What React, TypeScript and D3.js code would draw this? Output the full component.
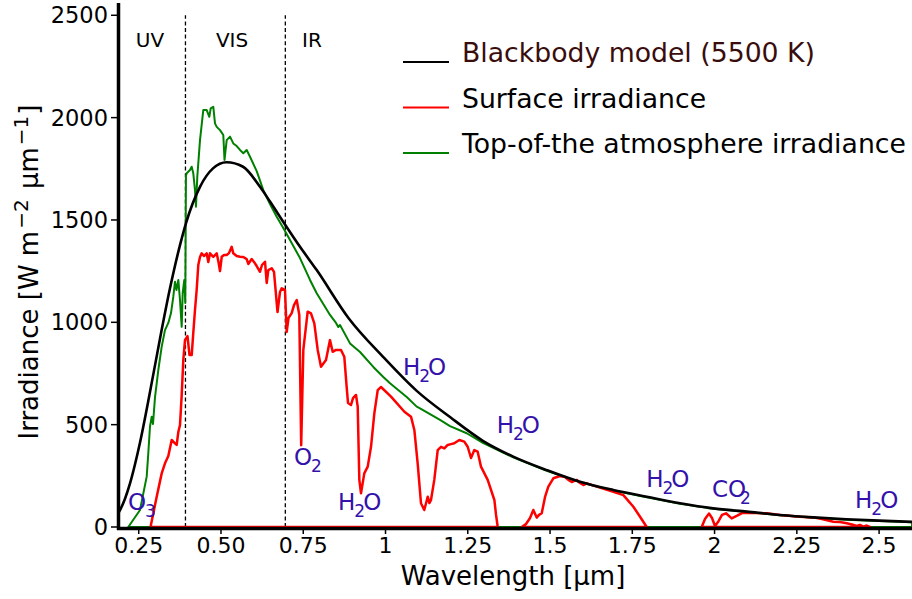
import React from 'react';
import * as d3 from 'd3';

type Pt = [number, number];

// Blackbody model (5500 K) – wavelength [µm], irradiance [W m-2 µm-1]
const blackbody: Pt[] = [
  [0.187, 64], [0.193, 82], [0.208, 137], [0.2235, 213], [0.2389, 308], [0.2539, 413],
  [0.2842, 659], [0.3146, 920], [0.345, 1166], [0.3754, 1377], [0.3937, 1485],
  [0.4362, 1662], [0.4757, 1752], [0.517, 1782], [0.567, 1760], [0.6186, 1662],
  [0.6489, 1590], [0.6945, 1478], [0.7401, 1369], [0.7909, 1255], [0.8879, 1020],
  [0.9933, 830], [1.0948, 665], [1.196, 537], [1.297, 420], [1.388, 344], [1.49, 278],
  [1.591, 221], [1.692, 181], [1.794, 148], [1.895, 116], [1.996, 91], [2.098, 75],
  [2.199, 59], [2.3, 47], [2.4, 38], [2.5, 31], [2.6, 25],
];

// Top-of-the-atmosphere irradiance
const topOfAtmosphere: Pt[] = [
  [0.2183, 0], [0.2539, 83], [0.2742, 246], [0.2791, 361], [0.2842, 490], [0.2894, 539],
  [0.2934, 503], [0.2995, 635], [0.3095, 767], [0.3198, 881], [0.3298, 962], [0.3399, 997],
  [0.3481, 1045], [0.3551, 1125], [0.3602, 1198], [0.3648, 1158], [0.3703, 1207],
  [0.3754, 1109], [0.3806, 978], [0.3836, 1143], [0.3885, 1207], [0.3915, 1094],
  [0.3935, 1715], [0.3958, 1728], [0.4058, 1744], [0.4109, 1760], [0.4158, 1728],
  [0.421, 1646], [0.424, 1565], [0.428, 1711], [0.4362, 1890], [0.4462, 2037],
  [0.4566, 2037], [0.4645, 2004], [0.4687, 2045], [0.4766, 2053], [0.4818, 1972],
  [0.487, 1955], [0.497, 1939], [0.507, 1915], [0.5107, 1793], [0.5173, 1890],
  [0.5274, 1907], [0.5374, 1874], [0.5477, 1861], [0.5578, 1842], [0.5678, 1826],
  [0.5781, 1842], [0.5882, 1809], [0.6085, 1739], [0.6286, 1646], [0.6489, 1578],
  [0.6693, 1516], [0.6894, 1461], [0.7097, 1402], [0.7401, 1314], [0.7705, 1207],
  [0.7909, 1142], [0.8313, 1036], [0.8495, 997], [0.8565, 977], [0.8617, 987],
  [0.8921, 897], [0.9225, 855], [0.9629, 782], [0.9933, 733], [1.0136, 702],
  [1.0644, 635], [1.0948, 588], [1.1048, 580], [1.1656, 523], [1.196, 493],
  [1.2467, 458], [1.2972, 410], [1.388, 340], [1.49, 274], [1.591, 218], [1.692, 178],
  [1.794, 145], [1.895, 113], [1.996, 89], [2.098, 73], [2.199, 57], [2.3, 45],
  [2.4, 36], [2.5, 29], [2.6, 23],
];

// Surface irradiance (three windows)
const surfaceA: Pt[] = [
  [0.2858, 0], [0.3046, 148], [0.3198, 262], [0.3298, 311], [0.3399, 347], [0.3502, 425],
  [0.3602, 409], [0.3654, 401], [0.3703, 464], [0.3754, 498], [0.3806, 645], [0.3855, 816],
  [0.3906, 913], [0.3982, 933], [0.4043, 840], [0.411, 840], [0.4158, 948], [0.421, 1060],
  [0.4261, 1158], [0.431, 1280], [0.4362, 1319], [0.4413, 1337], [0.4483, 1324],
  [0.4566, 1337], [0.4614, 1295], [0.4666, 1337], [0.4766, 1320], [0.487, 1337],
  [0.4924, 1295], [0.497, 1250], [0.5022, 1320], [0.5092, 1329], [0.5173, 1329],
  [0.5243, 1338], [0.5325, 1369], [0.5374, 1337], [0.5477, 1324], [0.5578, 1320],
  [0.5678, 1319], [0.5781, 1309], [0.583, 1285], [0.5933, 1309], [0.6003, 1295],
  [0.6085, 1275], [0.6186, 1247], [0.6246, 1280], [0.6338, 1296], [0.6389, 1192],
  [0.6438, 1255], [0.6541, 1264], [0.6611, 1246], [0.6718, 1050], [0.6793, 1148],
  [0.6845, 1166], [0.6945, 1158], [0.6997, 953], [0.7051, 1021], [0.7149, 1045],
  [0.7219, 1084], [0.7301, 1109], [0.738, 1036], [0.7437, 400], [0.7502, 865],
  [0.7634, 1052], [0.7735, 1044], [0.7836, 995], [0.7939, 865], [0.8039, 783],
  [0.8191, 816], [0.8312, 913], [0.8394, 856], [0.8495, 865], [0.8647, 865],
  [0.8747, 832], [0.8814, 694], [0.886, 606], [0.8951, 596], [0.9012, 630],
  [0.9103, 645], [0.9155, 588], [0.9204, 230], [0.9255, 165], [0.9355, 262],
  [0.9459, 295], [0.9559, 392], [0.966, 555], [0.9763, 669], [0.9863, 684],
  [1.0167, 637], [1.0574, 563], [1.0774, 539], [1.0876, 474], [1.0977, 311],
  [1.1078, 116], [1.1178, 83], [1.1282, 148], [1.1336, 117], [1.1382, 132],
  [1.1482, 230], [1.1586, 376], [1.1686, 392], [1.1788, 384], [1.1889, 401],
  [1.199, 405], [1.209, 409], [1.2242, 425], [1.2394, 417], [1.2497, 392],
  [1.2598, 337], [1.2699, 376], [1.2801, 368], [1.2901, 295], [1.3105, 230],
  [1.3308, 132], [1.3359, 59], [1.341, 0],
];
const surfaceB: Pt[] = [
  [1.4139, 0], [1.427, 15], [1.4392, 44], [1.4492, 83], [1.4595, 46], [1.4665, 59],
  [1.4747, 67], [1.4848, 147], [1.4948, 197], [1.51, 238], [1.5303, 249], [1.5455, 244],
  [1.5556, 230], [1.5659, 220], [1.5811, 230], [1.591, 215], [1.6012, 205], [1.6115, 213],
  [1.6419, 197], [1.6924, 172], [1.7228, 156], [1.7532, 99], [1.7735, 50], [1.7938, 0],
];
const surfaceC: Pt[] = [
  [1.9609, 0], [1.9709, 39], [1.9831, 66], [1.9922, 44], [2.0013, 5], [2.0104, 24],
  [2.0226, 59], [2.0347, 67], [2.052, 42], [2.0672, 54], [2.0833, 68], [2.0976, 70],
  [2.1584, 67], [2.1989, 59], [2.2596, 50], [2.3001, 47], [2.3265, 39], [2.361, 26],
  [2.3812, 24], [2.4016, 18], [2.4177, 12], [2.432, 5], [2.442, 10], [2.4521, 2],
  [2.4624, 7], [2.4724, 0],
];
const surfaceSegments = [surfaceA, surfaceB, surfaceC];

const xTickValues = [0.25, 0.5, 0.75, 1, 1.25, 1.5, 1.75, 2, 2.25, 2.5];
const xTickLabels = ['0.25', '0.50', '0.75', '1', '1.25', '1.5', '1.75', '2', '2.25', '2.5'];
const yTickValues = [0, 500, 1000, 1500, 2000, 2500];
const yTickLabels = ['0', '500', '1000', '1500', '2000', '2500'];

const regionBounds = [0.392, 0.6955];
const regionNames = ['UV', 'VIS', 'IR'];
const regionNameWl = [0.2843, 0.5335, 0.7766];
const regionNameVal = 2345;

// absorption labels
const absorberMain = ['O', 'O', 'H', 'H', 'H', 'H', 'CO', 'H'];
const absorberSub = ['3', '2', '2', '2', '2', '2', '2', '2'];
const absorberTail = ['', '', 'O', 'O', 'O', 'O', '', 'O'];
const absorberWl = [0.2174, 0.7219, 0.8556, 1.0531, 1.338, 1.792, 1.992, 2.427];
const absorberVal = [83, 303, 83, 742, 458, 195, 147, 93];

const legendLabels = ['Blackbody model (5500 K)', 'Surface irradiance', 'Top-of-the atmosphere irradiance'];
const legendColors = ['#000000', '#ff0000', '#008000'];
const legendTextColors = ['#3a0d0d', '#000000', '#000000'];

const FONT = "'DejaVu Sans', sans-serif";

export default function App() {
  const W = 912;
  const H = 599;
  const x = d3.scaleLinear().domain([0.187, 2.6]).range([118, 912]);
  const y = d3.scaleLinear().domain([0, 2560]).range([527, 3]);

  const line = d3.line<Pt>().x((d) => x(d[0])).y((d) => y(d[1]));
  const smooth = d3.line<Pt>().x((d) => x(d[0])).y((d) => y(d[1])).curve(d3.curveMonotoneX);

  const last = topOfAtmosphere[topOfAtmosphere.length - 1];
  const toaPath = (line(topOfAtmosphere) || '') + `L${x(last[0])},${y(0)}Z`;

  const chemColor = '#3311aa';

  return (
    <svg width={W} height={H} style={{ position: 'absolute', left: 0, top: 0, background: '#fff' }} fontFamily={FONT}>
      <rect x={0} y={0} width={W} height={H} fill="#fff" />
      {/* region dashed lines */}
      {regionBounds.map((b, i) => (
        <line key={'rb' + i} x1={x(b)} x2={x(b)} y1={y(0)} y2={y(2500)} stroke="#000" strokeWidth={1.3} strokeDasharray="4,2.6" />
      ))}
      {regionNames.map((t, i) => (
        <text key={'rn' + i} x={x(regionNameWl[i])} y={y(regionNameVal)} fontSize={20} textAnchor="middle" fill="#000">{t}</text>
      ))}

      {/* TOA */}
      <path d={toaPath} fill="none" stroke="#008000" strokeWidth={2} strokeLinejoin="round" />
      {/* Surface */}
      {surfaceSegments.map((s, i) => (
        <path key={'s' + i} d={(line(s) || '') + 'Z'} fill="none" stroke="#ff0000" strokeWidth={2.5} strokeLinejoin="round" />
      ))}
      {/* Blackbody */}
      <path d={smooth(blackbody) || ''} fill="none" stroke="#000" strokeWidth={2.6} />

      {/* axes */}
      <line x1={118.5} x2={118.5} y1={3} y2={530} stroke="#000" strokeWidth={3.5} />
      <line x1={117} x2={912} y1={y(0) + 1.5} y2={y(0) + 1.5} stroke="#000" strokeWidth={3.5} />
      {yTickValues.map((v, i) => (
        <g key={'yt' + i}>
          <line x1={111} x2={117} y1={y(v)} y2={y(v)} stroke="#000" strokeWidth={1.5} />
          <text x={108} y={y(v) + 8} fontSize={22.5} textAnchor="end" fill="#000">{yTickLabels[i]}</text>
        </g>
      ))}
      {xTickValues.map((v, i) => (
        <g key={'xt' + i}>
          <line x1={x(v)} x2={x(v)} y1={529} y2={534} stroke="#000" strokeWidth={1.5} />
          <text x={x(v)} y={553} fontSize={22} textAnchor="middle" fill="#000">{xTickLabels[i]}</text>
        </g>
      ))}

      {/* axis titles */}
      <text x={513} y={585} fontSize={26} textAnchor="middle" fill="#000">Wavelength [µm]</text>
      <text transform="translate(38,272) rotate(-90)" fontSize={26} textAnchor="middle" fill="#000">
        Irradiance [W m<tspan dx={2} dy={-10} fontSize={20}>−2</tspan><tspan dx={2} dy={10}> µm</tspan><tspan dx={2} dy={-10} fontSize={20}>−1</tspan><tspan dx={1} dy={10}>]</tspan>
      </text>

      {/* absorber labels */}
      {absorberMain.map((m, i) => (
        <text key={'ab' + i} x={x(absorberWl[i])} y={y(absorberVal[i])} fontSize={23} fill={chemColor}>
          {m}
          <tspan dx={m === 'CO' ? -6 : -1} dy={7} fontSize={17}>{absorberSub[i]}</tspan>
          {absorberTail[i] ? <tspan dx={-2} dy={-7} fontSize={23}>{absorberTail[i]}</tspan> : null}
        </text>
      ))}

      {/* legend */}
      {legendLabels.map((t, i) => (
        <g key={'lg' + i} transform={`translate(0, ${62 + i * 45.5})`}>
          <line x1={403} x2={449} y1={0} y2={0} stroke={legendColors[i]} strokeWidth={2.2} />
          <text x={462} y={0} fontSize={26.7} fill={legendTextColors[i]}>{t}</text>
        </g>
      ))}
    </svg>
  );
}
